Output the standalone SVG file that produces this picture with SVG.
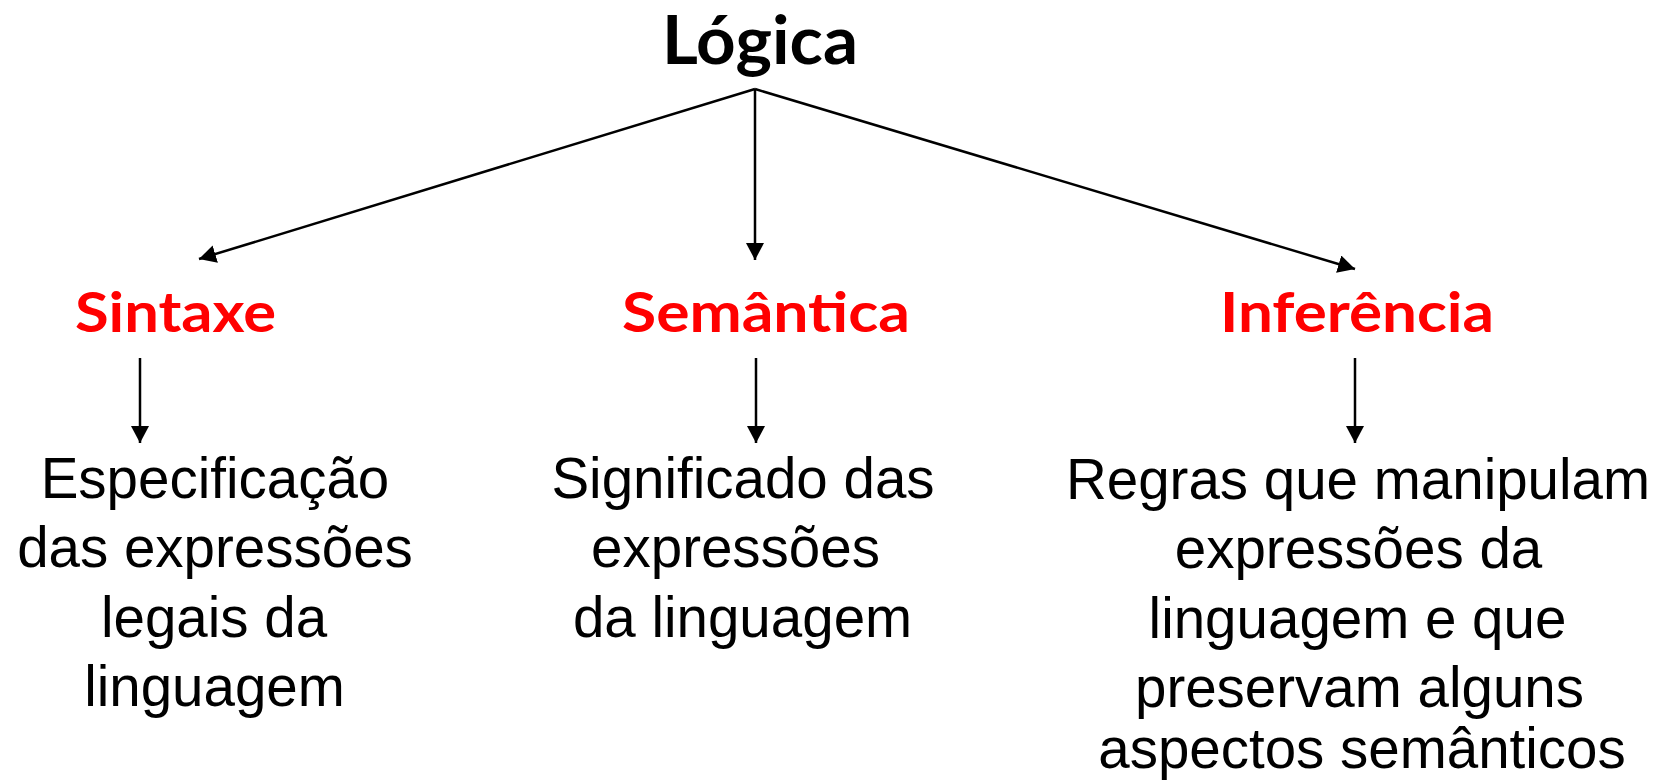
<svg xmlns="http://www.w3.org/2000/svg" width="1662" height="781" viewBox="0 0 1662 781">
<style>
.title{font-family:Lato,"Open Sans",sans-serif;font-weight:bold;text-anchor:middle}
.root{font-size:66px;fill:#000}
.branch{font-size:56px;fill:#ff0000}
.desc{font-family:"Liberation Sans",Arial,sans-serif;font-size:56.5px;fill:#000;text-anchor:middle}
.conn{stroke:#000;stroke-width:2.5;fill:none;marker-end:url(#arr)}
</style>
<defs>
<marker id="arr" markerUnits="userSpaceOnUse" markerWidth="18" markerHeight="18" viewBox="0 0 18 18" refX="17" refY="9" orient="auto">
<path d="M0,0 L17,9 L0,18 Z" fill="#000"/>
</marker>
</defs>
<rect width="1662" height="781" fill="#fff"/>
<g id="connectors">
<line class="conn" x1="755" y1="89" x2="199" y2="259"/>
<line class="conn" x1="755" y1="89" x2="755" y2="260"/>
<line class="conn" x1="755" y1="89" x2="1355" y2="269"/>
<line class="conn" x1="140" y1="358" x2="140" y2="443"/>
<line class="conn" x1="756" y1="358" x2="756" y2="443"/>
<line class="conn" x1="1355" y1="358" x2="1355" y2="443"/>
</g>
<g id="logica">
<text class="title root" x="760" y="64" textLength="196" lengthAdjust="spacingAndGlyphs">Lógica</text>
</g>
<g id="sintaxe">
<text class="title branch" x="175.5" y="332" textLength="201" lengthAdjust="spacingAndGlyphs">Sintaxe</text>
</g>
<g id="semantica">
<text class="title branch" x="766" y="332" textLength="288" lengthAdjust="spacingAndGlyphs">Semântica</text>
</g>
<g id="inferencia">
<text class="title branch" x="1357" y="332" textLength="274" lengthAdjust="spacingAndGlyphs">Inferência</text>
</g>
<g id="desc-sintaxe">
<text class="desc" x="215" y="498">Especificação</text>
<text class="desc" x="215" y="567">das expressões</text>
<text class="desc" x="214" y="637">legais da</text>
<text class="desc" x="214.5" y="706">linguagem</text>
</g>
<g id="desc-semantica">
<text class="desc" x="743" y="498">Significado das</text>
<text class="desc" x="735.5" y="567">expressões</text>
<text class="desc" x="742.5" y="637">da linguagem</text>
</g>
<g id="desc-inferencia">
<text class="desc" x="1358" y="499">Regras que manipulam</text>
<text class="desc" x="1358.5" y="568">expressões da</text>
<text class="desc" x="1357.5" y="638">linguagem e que</text>
<text class="desc" x="1359.5" y="707">preservam alguns</text>
<text class="desc" x="1362" y="768">aspectos semânticos</text>
</g>
</svg>
